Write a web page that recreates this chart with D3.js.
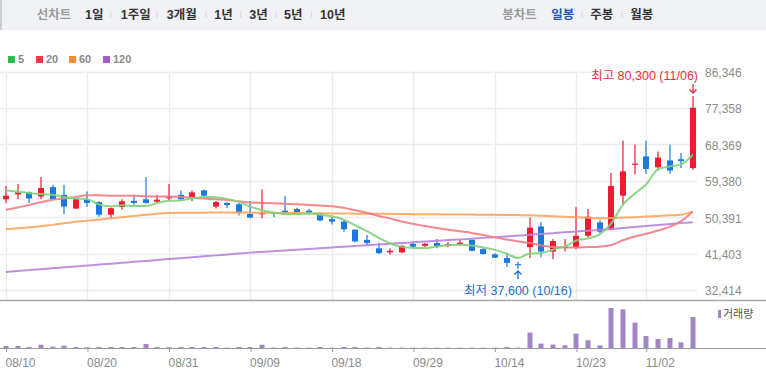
<!DOCTYPE html>
<html>
<head>
<meta charset="utf-8">
<script src="https://cdnjs.cloudflare.com/ajax/libs/d3/7.8.5/d3.min.js"></script>
<style>
body { margin: 0; background: #fff; }
svg { display: block; font-family: "Liberation Sans", Arial, "Noto Sans CJK KR", sans-serif; }
</style>
</head>
<body>
<script>
// daily candles, 2020-08-10 .. 2020-11-06
var dates = ["08/10","08/11","08/12","08/13","08/14","08/18","08/19","08/20","08/21","08/24",
  "08/25","08/26","08/27","08/28","08/31","09/01","09/02","09/03","09/04","09/07",
  "09/08","09/09","09/10","09/11","09/14","09/15","09/16","09/17","09/18","09/21",
  "09/22","09/23","09/24","09/25","09/28","09/29","10/05","10/06","10/07","10/08",
  "10/12","10/13","10/14","10/15","10/16","10/19","10/20","10/21","10/22","10/23",
  "10/26","10/27","10/28","10/29","10/30","11/02","11/03","11/04","11/05","11/06"];

var openP = [54800,56000,56500,55500,57800,55900,52500,54800,54100,51000,
  52900,54400,54800,54200,55000,55900,55100,57000,53000,53900,
  53600,51200,51100,51500,52000,52400,52000,51400,49900,49300,
  47300,44800,42700,41700,41700,43800,43300,44000,43500,43700,
  44800,42500,41200,40300,38800,43000,48100,41900,42900,42900,
  45800,49100,47300,55700,63300,65400,62700,64400,64700,62500];
var highP = [58100,58600,56700,60300,58400,58400,55000,56700,54300,52800,
  54800,55900,60300,55900,58600,57000,57000,57200,54400,54100,
  53900,54400,57200,51500,55700,52700,52400,51500,50500,49700,
  47400,46000,44100,42700,43500,44400,44100,45000,44300,44800,
  44900,42700,41500,41500,39400,50300,49200,45000,45000,52900,
  52400,49600,61300,69300,68300,69300,66600,68300,66200,80300];
var lowP = [53900,54800,53900,54800,54700,51100,52400,52900,50500,49900,
  52200,53400,53700,53800,54500,54400,54300,55500,52500,52600,
  50800,50100,50100,50400,51200,51400,51000,49300,48600,46800,
  44200,43500,41300,41100,41500,42700,43000,42700,43000,43400,
  42000,41100,40300,38100,37600,40300,40500,40000,41900,42500,
  45400,46400,47100,53400,60900,61100,61900,61100,62500,62100];
var closeP = [55700,56500,55000,57600,54800,53000,54800,53900,51000,52600,
  54300,53900,53900,54700,55300,54800,56500,55700,54100,53400,
  51400,50300,51400,51200,51400,51500,51200,49600,49300,47400,
  44400,44000,41500,42100,43300,43100,43800,43300,43700,44100,
  42100,41300,40400,39100,38600,47800,41900,44500,43100,45800,
  50500,46800,58100,61700,63600,62300,65100,61900,64200,77400];

// trading volume (thousand shares)
var volume = [200,200,100,330,130,230,100,70,100,100,
  100,100,400,100,70,100,100,100,100,40,
  100,100,330,40,100,40,40,100,40,100,
  100,40,100,30,30,30,30,30,30,30,
  30,30,30,100,30,1540,440,340,270,1440,
  770,270,4000,3870,2540,1200,900,1000,570,3100];

// moving averages
var ma5 = [57000,56700,56300,56100,55900,55380,55040,54820,53500,53060,
  53320,53140,53140,53880,54420,54520,55040,55400,55280,54900,
  54220,52980,52120,51540,51140,51160,51340,50980,50600,49800,
  48380,46940,45320,43880,43060,42800,42760,43120,43440,43600,
  43400,42900,42320,41400,40300,41440,41560,42380,43180,44620,
  45160,46140,48860,53500,56140,58500,62160,62920,63420,65800];
var ma20 = [52200,52800,53400,54100,54700,55000,55400,55800,55800,55700,
  55700,55700,55500,55500,55500,55400,55200,55000,54800,54600,
  54300,54000,53900,53800,53700,53600,53400,53300,53100,52700,
  52100,51500,50700,50100,49300,48700,48200,47700,47300,46900,
  46500,46000,45400,44900,44400,44000,43400,43000,42900,42900,
  43000,43100,43500,44700,45600,46300,47100,48000,49400,51800];
var ma60 = [47430,47630,47880,48120,48490,48870,49240,49480,49780,50100,
  50400,50670,50970,51220,51390,51460,51490,51510,51540,51540,
  51540,51510,51460,51440,51410,51390,51360,51340,51310,51290,
  51260,51240,51220,51190,51170,51140,51120,51090,51070,51040,
  51020,50990,50970,50950,50900,50850,50750,50600,50500,50380,
  50250,50150,50200,50300,50400,50550,50700,50850,51000,51750];
var ma120 = [36870,37100,37320,37550,37780,38000,38230,38460,38690,38910,
  39140,39370,39590,39820,40050,40280,40500,40730,40960,41180,
  41410,41640,41820,42000,42190,42370,42550,42730,42910,43100,
  43280,43460,43640,43820,44000,44190,44370,44550,44730,44910,
  45090,45280,45460,45640,45840,46040,46250,46450,46650,46850,
  47060,47260,47500,47730,47970,48210,48450,48690,48920,49160];

var yTicks = [32414,41403,50391,59380,68369,77358,86346];
var xTickLabels = ["08/10","08/20","08/31","09/09","09/18","09/29","10/14","10/23","11/02"];

var leftTabs = ["1일","1주일","3개월","1년","3년","5년","10년"];
var rightTabs = ["일봉","주봉","월봉"];

var maList = [
  {name: "5", values: ma5, color: "#2dbd4b", line: "#7fd27b"},
  {name: "20", values: ma20, color: "#f0374a", line: "#f57a84"},
  {name: "60", values: ma60, color: "#f98a37", line: "#fba55e"},
  {name: "120", values: ma120, color: "#a55cc8", line: "#b685dc"}
];

var width = 766, height = 373;
var upColor = "#ef1b30", downColor = "#1b79dd";

var x = d3.scalePoint().domain(dates).range([6, 692.8]);
var y = d3.scaleLinear().domain([32414, 86346]).range([290, 71.5]);
var yv = d3.scaleLinear().domain([0, 4000]).range([348, 308]);

var svg = d3.select("body").append("svg")
    .attr("width", width)
    .attr("height", height);

// ---- top tab bar
svg.append("rect").attr("x", 0).attr("y", 0).attr("width", width).attr("height", 30)
    .attr("fill", "#f1f2f6");
svg.append("rect").attr("x", 0).attr("y", 0).attr("width", 2).attr("height", 30)
    .attr("fill", "#cfd0d4");

var leftX = [85, 120.7, 166.7, 214.3, 249.3, 284, 320];
svg.append("text").attr("x", 36.7).attr("y", 18.5).attr("font-size", "12.5px")
    .attr("font-weight", "bold").attr("fill", "#9a9a9a").text("선차트");
svg.selectAll(".ltab").data(leftTabs).enter().append("text")
    .attr("class", "ltab")
    .attr("x", function(d, i) { return leftX[i]; })
    .attr("y", 18.5)
    .attr("font-size", "12.5px").attr("font-weight", "bold").attr("fill", "#333")
    .text(function(d) { return d; });
svg.selectAll(".lsep").data([110.7, 157, 206, 240.7, 276, 311.7]).enter().append("line")
    .attr("x1", function(d) { return d; }).attr("x2", function(d) { return d; })
    .attr("y1", 11).attr("y2", 18).attr("stroke", "#d8d8dc");

var rightX = [551.3, 590.3, 630.3];
svg.append("text").attr("x", 502.3).attr("y", 18.5).attr("font-size", "12.5px")
    .attr("font-weight", "bold").attr("fill", "#9a9a9a").text("봉차트");
svg.selectAll(".rtab").data(rightTabs).enter().append("text")
    .attr("class", "rtab")
    .attr("x", function(d, i) { return rightX[i]; })
    .attr("y", 18.5)
    .attr("font-size", "12.5px").attr("font-weight", "bold")
    .attr("fill", function(d, i) { return i == 0 ? "#2457b8" : "#333"; })
    .text(function(d) { return d; });
svg.selectAll(".rsep").data([582, 622]).enter().append("line")
    .attr("x1", function(d) { return d; }).attr("x2", function(d) { return d; })
    .attr("y1", 11).attr("y2", 18).attr("stroke", "#d8d8dc");

// ---- MA legend
var legX = [8, 36, 69, 103];
var leg = svg.selectAll(".leg").data(maList).enter().append("g")
    .attr("transform", function(d, i) { return "translate(" + legX[i] + ",56)"; });
leg.append("rect").attr("width", 7).attr("height", 7).attr("fill", function(d) { return d.color; });
leg.append("text").attr("x", 10).attr("y", 7.3)
    .attr("font-size", "11px").attr("font-weight", "bold").attr("fill", "#8a8a8a")
    .text(function(d) { return d.name; });

// ---- grid
svg.append("g").selectAll("line").data(yTicks).enter().append("line")
    .attr("x1", 0).attr("x2", 697)
    .attr("y1", function(d) { return Math.round(y(d)) + 0.5; })
    .attr("y2", function(d) { return Math.round(y(d)) + 0.5; })
    .attr("stroke", "#ececec").attr("stroke-width", 1.5);
svg.append("g").selectAll("line").data(xTickLabels).enter().append("line")
    .attr("x1", function(d) { return Math.round(x(d)) + 0.5; })
    .attr("x2", function(d) { return Math.round(x(d)) + 0.5; })
    .attr("y1", 71).attr("y2", 300)
    .attr("stroke", "#ececec").attr("stroke-width", 1.5);

// price axis labels
svg.append("g")
    .attr("transform", "translate(697,1)")
    .call(d3.axisRight(y).tickValues(yTicks).tickSize(0).tickPadding(8).tickFormat(d3.format(",")))
    .call(function(g) { g.select(".domain").remove(); })
    .selectAll("text")
    .attr("font-size", "12px").attr("font-family", null).attr("fill", "#8c8c8c");

// panel separator
svg.append("line").attr("x1", 0).attr("x2", width).attr("y1", 300.5).attr("y2", 300.5)
    .attr("stroke", "#a9a9a9").attr("stroke-width", 1.5);

// ---- candles
var candle = svg.append("g").selectAll("g").data(dates).enter().append("g");
function cx(i) { return Math.round(x(dates[i])); }
function col(i) { return closeP[i] >= openP[i] ? upColor : downColor; }

candle.append("line")
    .attr("x1", function(d, i) { return cx(i); })
    .attr("x2", function(d, i) { return cx(i); })
    .attr("y1", function(d, i) { return y(highP[i]); })
    .attr("y2", function(d, i) { return y(lowP[i]); })
    .attr("stroke", function(d, i) { return col(i); })
    .attr("stroke-width", 1.2);

candle.append("rect")
    .attr("x", function(d, i) { return cx(i) - 3; })
    .attr("width", 6)
    .attr("y", function(d, i) { return y(Math.max(openP[i], closeP[i])); })
    .attr("height", function(d, i) { return Math.max(1.2, Math.abs(y(openP[i]) - y(closeP[i]))); })
    .attr("fill", function(d, i) { return col(i); });

// ---- moving average lines
var maLine = d3.line()
    .x(function(d, i) { return x(dates[i]); })
    .y(function(d) { return y(d); })
    .curve(d3.curveMonotoneX);

svg.append("g").selectAll("path").data(maList.slice().reverse()).enter().append("path")
    .attr("d", function(d) { return maLine(d.values); })
    .attr("fill", "none")
    .attr("stroke", function(d) { return d.line; })
    .attr("stroke-width", 2)
    .attr("stroke-opacity", 0.9);

// ---- high / low markers
var hiIdx = highP.indexOf(d3.max(highP));
var loIdx = lowP.indexOf(d3.min(lowP));
var fmt = d3.format(",");

svg.append("text")
    .attr("x", 698).attr("y", 79.5)
    .attr("text-anchor", "end")
    .attr("font-size", "12.5px").attr("fill", "#e8303f")
    .text("최고 " + fmt(highP[hiIdx]) + " (" + dates[hiIdx] + ")");
svg.append("path")
    .attr("d", "M" + cx(hiIdx) + ",84V93M" + (cx(hiIdx) - 3.5) + ",89.5L" + cx(hiIdx) + ",93L" + (cx(hiIdx) + 3.5) + ",89.5")
    .attr("fill", "none").attr("stroke", "#e8303f").attr("stroke-width", 1.3);

svg.append("text")
    .attr("x", cx(loIdx)).attr("y", 294.5)
    .attr("text-anchor", "middle")
    .attr("font-size", "12.5px").attr("fill", "#1e6fd0")
    .text("최저 " + fmt(lowP[loIdx]) + " (" + dates[loIdx] + ")");
svg.append("path")
    .attr("d", "M" + cx(loIdx) + ",279V271M" + (cx(loIdx) - 3.5) + ",274.5L" + cx(loIdx) + ",271L" + (cx(loIdx) + 3.5) + ",274.5")
    .attr("fill", "none").attr("stroke", "#1e6fd0").attr("stroke-width", 1.3);

// ---- volume
svg.append("g").selectAll("rect").data(volume).enter().append("rect")
    .attr("x", function(d, i) { return cx(i) - 2.5; })
    .attr("width", 5)
    .attr("y", function(d) { return yv(d); })
    .attr("height", function(d) { return 348 - yv(d); })
    .attr("fill", "#a086c6");

svg.append("rect").attr("x", 718).attr("y", 310).attr("width", 3).attr("height", 8).attr("fill", "#a086c6");
svg.append("text").attr("x", 723).attr("y", 317.5).attr("font-size", "11px").attr("fill", "#555").text("거래량");

// ---- date axis
var xAxis = svg.append("g")
    .attr("transform", "translate(0,348)")
    .call(d3.axisBottom(x).tickValues(xTickLabels).tickSize(4).tickPadding(6));
xAxis.select(".domain").remove();
xAxis.selectAll("line").attr("stroke", "#9a9a9a");
xAxis.selectAll("text")
    .attr("text-anchor", "start").attr("dx", "-1")
    .attr("font-size", "12px").attr("font-family", null).attr("fill", "#8a8a8a");
svg.append("line").attr("x1", 0).attr("x2", width).attr("y1", 348.5).attr("y2", 348.5)
    .attr("stroke", "#9a9a9a");
</script>
</body>
</html>
